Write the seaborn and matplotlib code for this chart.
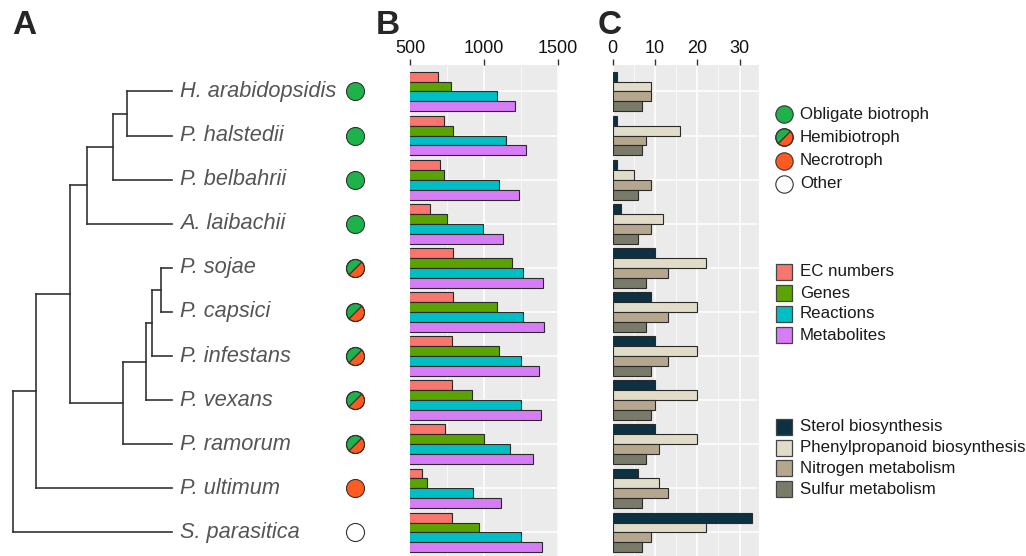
import matplotlib
matplotlib.use("Agg")
import matplotlib.pyplot as plt
import seaborn as sns
import pandas as pd
from matplotlib.markers import MarkerStyle
from matplotlib.transforms import Affine2D
from matplotlib.patches import Rectangle

# ---------------- data ----------------
species = ["H. arabidopsidis", "P. halstedii", "P. belbahrii", "A. laibachii",
           "P. sojae", "P. capsici", "P. infestans", "P. vexans", "P. ramorum",
           "P. ultimum", "S. parasitica"]
lifestyle = ["Obligate biotroph"] * 4 + ["Hemibiotroph"] * 5 + ["Necrotroph", "Other"]
lifestyle_levels = ["Obligate biotroph", "Hemibiotroph", "Necrotroph", "Other"]

ec_numbers = [687, 732, 700, 637, 788, 788, 783, 785, 734, 583, 781]
genes = [774, 792, 727, 749, 1186, 1087, 1098, 916, 1001, 617, 963]
reactions = [1087, 1147, 1100, 990, 1264, 1264, 1246, 1246, 1174, 927, 1251]
metabolites = [1208, 1280, 1237, 1127, 1395, 1404, 1368, 1381, 1332, 1111, 1390]
b_measures = ["EC numbers", "Genes", "Reactions", "Metabolites"]

sterol = [1, 1, 1, 2, 10, 9, 10, 10, 10, 6, 33]
phenylpropanoid = [9, 16, 5, 12, 22, 20, 20, 20, 20, 11, 22]
nitrogen = [9, 8, 9, 9, 13, 13, 13, 10, 11, 13, 9]
sulfur = [7, 7, 6, 6, 8, 8, 9, 9, 8, 7, 7]
c_pathways = ["Sterol biosynthesis", "Phenylpropanoid biosynthesis",
              "Nitrogen metabolism", "Sulfur metabolism"]

# tree: (node depth, children); leaves sit at depth 1.0
tree = (0.0, [(0.145, [(0.358, [(0.465, [(0.629, [(0.717, ["H. arabidopsidis", "P. halstedii"]),
                                                  "P. belbahrii"]),
                                         "A. laibachii"]),
                                (0.692, [(0.836, [(0.874, [(0.931, ["P. sojae", "P. capsici"]),
                                                           "P. infestans"]),
                                                  "P. vexans"]),
                                         "P. ramorum"])]),
                       "P. ultimum"]),
              "S. parasitica"])
leaf_depth = 1.0

# ---------------- styles ----------------
b_colors = ["#F8766D", "#5BA300", "#00BFC4", "#D67CF6"]
c_colors = ["#0B3142", "#E0DCC8", "#B5A78D", "#7A7A69"]
life_green = "#1DB24A"
life_orange = "#FF5A22"

sns.set_style("white")
plt.rcParams["font.family"] = ["Liberation Sans", "DejaVu Sans"]

W, H = 1026, 556
fig = plt.figure(figsize=(W / 100, H / 100), dpi=100)

n = len(species)
top_px, step_px = 65, 44.1
pan_h = (n + 0.2) * step_px
bottom_frac = (H - (top_px + pan_h)) / H
height_frac = pan_h / H
ylims = (n - 1 + 0.6, -0.6)

# ---------------- panel A: tree ----------------
axA = fig.add_axes([0, bottom_frac, 400 / W, height_frac])
axA.set_xlim(-13 / 159, 387 / 159)
axA.set_ylim(*ylims)
axA.axis("off")
lc = "#333333"


def draw(node):
    if isinstance(node, str):
        return leaf_depth, species.index(node)
    d, kids = node
    ys = []
    for k in kids:
        kx, ky = draw(k)
        axA.plot([d, kx], [ky, ky], color=lc, lw=1.2, solid_capstyle="projecting")
        ys.append(ky)
    axA.plot([d, d], [min(ys), max(ys)], color=lc, lw=1.2, solid_capstyle="projecting")
    return d, (ys[0] + ys[-1]) / 2


draw(tree)

for i, sp in enumerate(species):
    axA.text(leaf_depth + 8 / 159, i, sp, fontsize=15.7, style="italic",
             color="#555555", va="center", ha="left")

circ_x = (355 - 13) / 159


def life_marker(ax, x, y, kind, ms):
    if kind == "Obligate biotroph":
        ax.plot(x, y, "o", ms=ms, mfc=life_green, mec="#333333", mew=0.8)
    elif kind == "Necrotroph":
        ax.plot(x, y, "o", ms=ms, mfc=life_orange, mec="#333333", mew=0.8)
    elif kind == "Other":
        ax.plot(x, y, "o", ms=ms, mfc="white", mec="#333333", mew=0.8)
    else:
        m = MarkerStyle("o", fillstyle="top", transform=Affine2D().rotate_deg(45))
        ax.plot(x, y, marker=m, ms=ms, mfc=life_green, mfcalt=life_orange,
                mec="#333333", mew=0.8, ls="none")
        ax.plot([x], [y], marker="o", ms=ms, mfc="none", mec="#333333", mew=0.8)


for i, ls in enumerate(lifestyle):
    life_marker(axA, circ_x, i, ls, 13)

# ---------------- panels B and C ----------------
dfB = pd.DataFrame({"species": species, "EC numbers": ec_numbers, "Genes": genes,
                    "Reactions": reactions, "Metabolites": metabolites})
dfB = dfB.melt(id_vars="species", var_name="measure", value_name="value")

dfC = pd.DataFrame({"species": species, "Sterol biosynthesis": sterol,
                    "Phenylpropanoid biosynthesis": phenylpropanoid,
                    "Nitrogen metabolism": nitrogen, "Sulfur metabolism": sulfur})
dfC = dfC.melt(id_vars="species", var_name="pathway", value_name="value")


def style_panel(ax, xlim, major, minor):
    ax.set_facecolor("#EBEBEB")
    ax.set_xlim(*xlim)
    ax.set_ylim(*ylims)
    ax.set_xticks(major)
    ax.set_xticks(minor, minor=True)
    ax.set_yticks(range(n))
    ax.set_yticklabels([])
    ax.grid(True, which="major", color="white", lw=1.1)
    ax.grid(True, which="minor", axis="x", color="white", lw=0.5)
    ax.set_axisbelow(True)
    for s in ax.spines.values():
        s.set_visible(False)
    ax.xaxis.tick_top()
    ax.tick_params(axis="x", which="major", top=True, bottom=False, length=4,
                   width=1.0, color="#333333", labelsize=13, pad=2,
                   labelcolor="#111111")
    ax.tick_params(axis="x", which="minor", top=False, bottom=False, length=0)
    ax.tick_params(axis="y", length=0)
    ax.set_xlabel("")
    ax.set_ylabel("")


axB = fig.add_axes([410 / W, bottom_frac, 149.2 / W, height_frac])
sns.barplot(data=dfB, y="species", x="value", hue="measure", order=species,
            hue_order=b_measures, palette=b_colors, orient="h", width=0.9,
            saturation=1, edgecolor="#2a2a2a", linewidth=0.8, legend=False, ax=axB)
style_panel(axB, (500, 1507), [500, 1000, 1500], [750, 1250])

axC = fig.add_axes([612.5 / W, bottom_frac, 146.5 / W, height_frac])
sns.barplot(data=dfC, y="species", x="value", hue="pathway", order=species,
            hue_order=c_pathways, palette=c_colors, orient="h", width=0.9,
            saturation=1, edgecolor="#2a2a2a", linewidth=0.8, legend=False, ax=axC)
style_panel(axC, (0, 34.6), [0, 10, 20, 30], [5, 15, 25])

# ---------------- overlay: letters and legends ----------------
ov = fig.add_axes([0, 0, 1, 1])
ov.set_xlim(0, W)
ov.set_ylim(H, 0)
ov.axis("off")
for lab, x in [("A", 12), ("B", 376), ("C", 598)]:
    ov.text(x, 25, lab, fontsize=24, fontweight="bold", va="center", ha="left")

leg_fs = 12.2
for i, lv in enumerate(lifestyle_levels):
    y = 114 + i * 23.3
    life_marker(ov, 784, y, lv, 12.5)
    ov.text(800, y, lv, fontsize=leg_fs, va="center", ha="left", color="#1a1a1a")

for i, (lv, col) in enumerate(zip(b_measures, b_colors)):
    y = 272 + i * 21
    ov.add_patch(Rectangle((776, y - 8), 16, 16, facecolor=col, edgecolor="#444444", lw=0.9))
    ov.text(800, y, lv, fontsize=leg_fs, va="center", ha="left", color="#1a1a1a")

for i, (lv, col) in enumerate(zip(c_pathways, c_colors)):
    y = 427 + i * 20.7
    ov.add_patch(Rectangle((776, y - 8), 16, 16, facecolor=col, edgecolor="#444444", lw=0.9))
    ov.text(800, y, lv, fontsize=leg_fs, va="center", ha="left", color="#1a1a1a")

fig.savefig("out.png", dpi=100)
